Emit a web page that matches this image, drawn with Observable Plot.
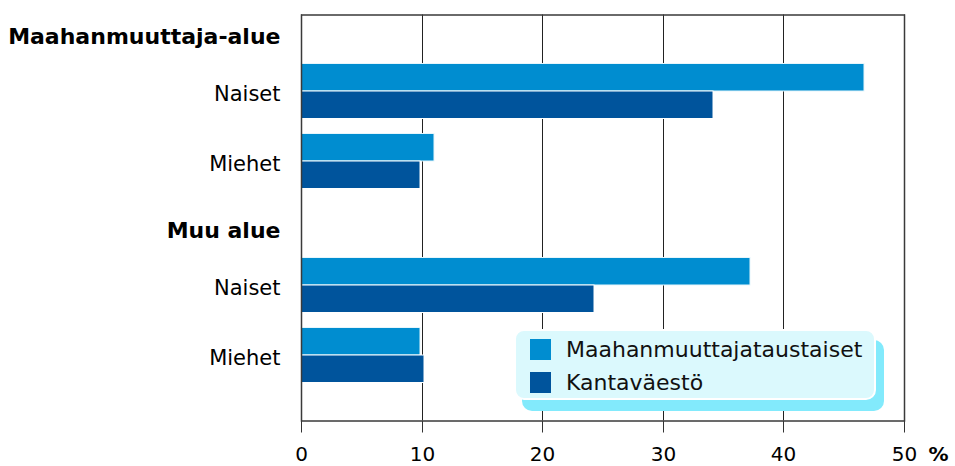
<!DOCTYPE html>
<html>
<head>
<meta charset="utf-8">
<script src="https://cdn.jsdelivr.net/npm/d3@7"></script>
<script src="https://cdn.jsdelivr.net/npm/@observablehq/plot@0.6"></script>
<style>
  body { margin: 0; background: white; }
  #wrap { position: relative; width: 955px; height: 466px; font-family: "DejaVu Sans", Verdana, sans-serif; }
  #legend { position: absolute; left: 514px; top: 329px; width: 358px; height: 67px;
    background: #dbf9fd; border: 2px solid #ffffff; border-radius: 10px;
    box-shadow: 8px 11px 0 0 #82eafc; }
  .item { position: absolute; left: 14px; display: flex; align-items: center; font-size: 22px; color: #111; }
  .sw { width: 21px; height: 21px; margin-right: 15px; }
</style>
</head>
<body>
<div id="wrap"></div>
<script>
const regions = ["Maahanmuuttaja-alue", "Muu alue"];
const genders = ["Naiset", "Miehet"];
const seriesNames = ["Maahanmuuttajataustaiset", "Kantaväestö"];
const seriesColors = ["#008dd0", "#00549c"];
// order: Maahanmuuttaja-alue Naiset, Miehet, Muu alue Naiset, Miehet
const immigrantValues = [46.7, 11.0, 37.2, 9.9];
const nativeValues = [34.2, 9.9, 24.3, 10.2];
const xTicks = [0, 10, 20, 30, 40, 50];
const unitLabel = "%";

const data = [];
regions.forEach((r, i) => genders.forEach((g, j) => {
  data.push({region: r, gender: g, imm: immigrantValues[i * 2 + j], nat: nativeValues[i * 2 + j]});
}));
const lastRegion = regions[regions.length - 1];

const chart = Plot.plot({
  width: 955,
  height: 466,
  marginLeft: 301,
  marginRight: 51,
  marginTop: 22.5,
  marginBottom: 54.5,
  style: {fontFamily: "DejaVu Sans, Verdana, sans-serif", background: "white", color: "#111"},
  x: {domain: [0, 50], round: true, label: null, axis: null},
  y: {domain: genders, paddingInner: 0.22, paddingOuter: 0.11, insetTop: 32.75, insetBottom: 20.75, label: null, axis: null},
  fy: {domain: regions, paddingInner: 0, paddingOuter: 0, label: null, axis: null},
  marks: [
    // vertical grid lines spanning the full frame
    Plot.ruleX(xTicks, {stroke: "#222", strokeWidth: 1, insetTop: -8.5, insetBottom: -9.5}),
    Plot.barX(data, {fy: "region", y: "gender", x: "imm", fill: seriesColors[0], insetBottom: 27.5, stroke: "#e6f6fc", strokeWidth: 1}),
    Plot.barX(data, {fy: "region", y: "gender", x: "nat", fill: seriesColors[1], insetTop: 27.5, stroke: "white", strokeWidth: 1}),
    Plot.text(regions, {fy: d => d, text: d => d, frameAnchor: "top-left", lineAnchor: "middle", dx: -21, dy: 13, textAnchor: "end", fontWeight: "bold", fontSize: 22, fill: "#000"}),
    Plot.axisY({tickSize: 0, tickPadding: 21, fontSize: 21, dy: 3, label: null, fill: "#000"}),
    // x-axis ticks below the frame (last facet only)
    Plot.ruleX(xTicks, {fy: () => lastRegion, stroke: "#333", strokeWidth: 1, insetTop: 194.5 + 9.5, insetBottom: -21.5}),
    Plot.text(xTicks, {fy: () => lastRegion, x: d => d, text: d => String(d), frameAnchor: "bottom", lineAnchor: "middle", dy: 43, fontSize: 20, fill: "#000"}),
    Plot.frame({facet: "super", stroke: "#3a3a3a", strokeWidth: 1.5, insetTop: -8.5, insetBottom: -9.5}),
    Plot.text([unitLabel], {facet: "super", text: d => d, frameAnchor: "bottom-right", textAnchor: "start", lineAnchor: "middle", dx: 24, dy: 43, fontSize: 20, fontWeight: "bold", fill: "#000"})
  ]
});

const wrap = document.getElementById("wrap");
wrap.appendChild(chart);

const legend = document.createElement("div");
legend.id = "legend";
seriesNames.forEach((name, i) => {
  const item = document.createElement("div");
  item.className = "item";
  item.style.top = (6 + i * 33) + "px";
  const sw = document.createElement("div");
  sw.className = "sw";
  sw.style.background = seriesColors[i];
  const label = document.createElement("span");
  label.textContent = name;
  item.appendChild(sw);
  item.appendChild(label);
  legend.appendChild(item);
});
wrap.appendChild(legend);
</script>
</body>
</html>
